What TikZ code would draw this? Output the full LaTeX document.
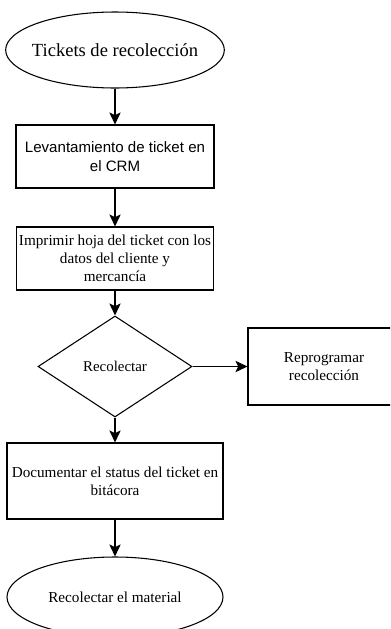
\documentclass[tikz,border=0pt]{standalone}
\usepackage{fontspec}
\setmainfont{Liberation Serif}
\newfontfamily\arialfont{Liberation Sans}
\usetikzlibrary{shapes.geometric,arrows.meta}

\begin{document}
\begin{tikzpicture}[x=0.75pt, y=-0.75pt,
    terminal/.style={draw, ellipse, line width=0.8pt, inner xsep=-30pt, inner ysep=0pt, minimum width=164pt, minimum height=57pt},
    process/.style={draw, rectangle, line width=0.8pt, inner sep=2pt, align=center, font=\fontsize{11.4}{13.5}\selectfont},
    decision/.style={draw, diamond, line width=0.8pt, inner sep=0pt, minimum width=115.5pt, minimum height=75.75pt, font=\fontsize{11.2}{13.5}\selectfont},
    flow/.style={line width=0.8pt, -{Stealth[length=9pt, width=8.5pt, inset=2pt]}}]
    \clip (0,0) rectangle (390,629);
    \fill[white] (0,0) rectangle (390,629);

    \node[terminal, font=\fontsize{13.9}{16}\selectfont] (start) at (115,50) {Tickets de recolección};
    \node[process, minimum width=148.5pt, minimum height=47.25pt, font=\arialfont\fontsize{11.3}{14}\selectfont] (crm) at (115,156.5) {Levantamiento de ticket en\\el CRM};
    \node[process, minimum width=148pt, minimum height=47.25pt] (print) at (115,258.5) {Imprimir hoja del ticket con los\\datos del cliente y\\mercancía};
    \node[decision] (collect) at (115,366.5) {Recolectar};
    \node[process, minimum width=114pt, minimum height=57.75pt] (resched) at (324,366.5) {Reprogramar\\recolección};
    \node[process, minimum width=162pt, minimum height=57pt] (log) at (115,481) {Documentar el status del ticket en\\bitácora};
    \node[terminal, minimum width=162pt, minimum height=60pt, font=\fontsize{11.4}{13.5}\selectfont] (material) at (115,597) {Recolectar el material};

    \draw[flow] (start) -- (crm);
    \draw[flow] (crm) -- (print);
    \draw[flow] (print) -- (collect);
    \draw[flow] (collect.east) -- (resched.west);
    \draw[flow] (collect) -- (log);
    \draw[flow] (log) -- (material);
\end{tikzpicture}
\end{document}
